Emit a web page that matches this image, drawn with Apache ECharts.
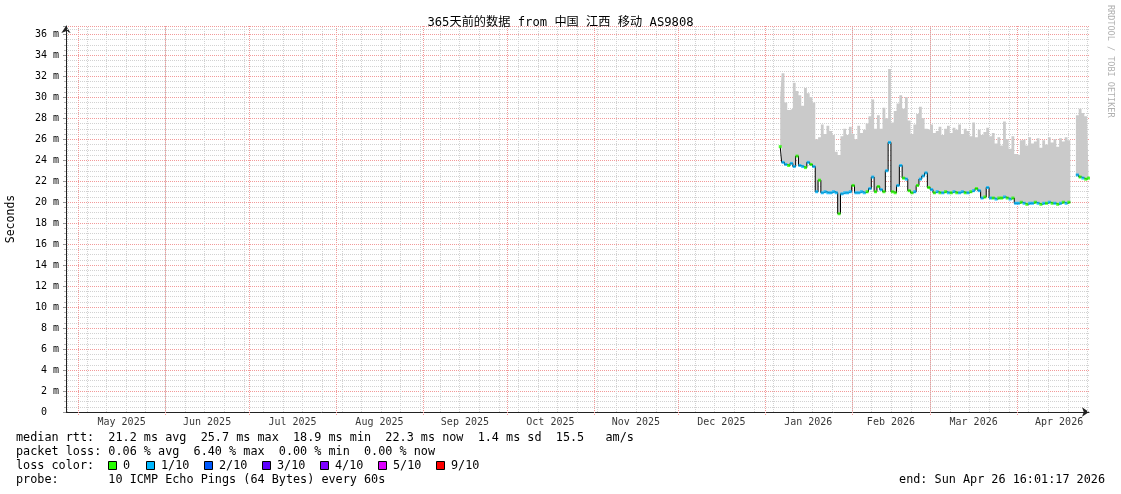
<!DOCTYPE html>
<html><head><meta charset="utf-8">
<script src="https://cdn.jsdelivr.net/npm/echarts@6/dist/echarts.min.js"></script>
<style>html,body{margin:0;padding:0;background:#fff}#c{width:1121px;height:494px}</style>
</head><body><div id="c"></div>
<script>
// ---------- data ----------
const rangeStart = '2025-04-26T16:01:17Z';
const rangeEnd   = '2026-04-26T16:01:17Z';
const dataStart  = '2026-01-06T12:00:00Z';   // first daily bucket (one value per day)

// median rtt (ms), one per day from dataStart; null = no data
const median = [
 25.3,23.8,23.6,23.5,23.7,23.4,24.4,23.5,23.4,23.3,
 23.8,23.6,23.4,21.0,22.1,20.9,21.0,20.9,20.9,21.0,
 20.9,18.9,20.8,20.9,20.9,21.0,21.6,20.9,20.9,21.0,
 20.9,21.0,21.3,22.4,21.0,21.5,21.2,21.0,23.0,25.7,
 21.0,20.9,21.6,23.5,22.3,22.2,21.1,20.9,21.0,21.6,
 22.2,22.5,22.8,21.4,21.2,20.9,21.0,20.9,20.9,21.0,
 20.9,20.9,21.0,20.9,20.9,21.0,20.9,20.9,21.0,21.1,
 21.3,21.1,20.4,20.5,21.4,20.4,20.4,20.3,20.4,20.4,
 20.5,20.4,20.3,20.4,19.9,19.9,20.0,19.9,19.8,19.9,
 19.9,20.0,19.9,19.8,19.9,19.9,20.0,19.9,19.9,19.8,
 19.9,20.0,19.9,20.0,null,null,22.6,22.4,22.3,22.2,
 22.3
];
// top of the smoke (max rtt, ms)
const smokeTop = [
 30.0,32.3,29.5,28.8,28.9,31.4,30.6,30.2,29.2,30.9,
 30.4,30.0,29.5,26.0,26.2,27.4,26.5,27.3,26.8,26.4,
 24.8,24.5,26.3,27.0,26.4,27.2,26.5,26.0,27.3,26.6,
 26.9,27.5,28.2,29.8,27.0,28.3,27.0,29.0,28.0,32.7,
 27.6,28.7,29.4,30.2,28.9,30.0,27.8,26.5,27.4,28.4,
 29.1,28.0,27.0,26.9,27.4,26.6,26.8,27.2,26.4,27.0,
 27.3,26.6,27.1,26.9,27.4,26.5,27.0,26.8,26.3,27.6,
 26.2,26.9,26.4,26.7,27.1,26.3,26.6,25.6,26.2,25.4,
 27.7,26.0,25.1,26.3,24.6,24.5,25.9,26.0,25.4,26.2,
 25.6,25.8,26.1,25.2,25.9,25.5,26.2,25.7,26.0,25.3,
 26.1,25.8,26.2,25.9,null,null,28.3,28.9,28.5,28.2,
 28.0
];
// loss per day, in tenths
const loss = [
 0,1,1,0,1,1,0,1,1,0,
 1,0,1,1,0,1,1,1,1,1,
 1,0,1,1,1,1,0,1,1,1,
 1,0,1,1,0,0,1,0,1,1,
 0,0,1,1,0,1,0,0,1,0,
 1,1,1,0,1,0,1,0,1,0,
 1,0,1,0,1,1,0,1,0,1,
 0,1,1,0,1,1,0,1,0,0,
 1,0,1,0,1,1,0,1,0,1,
 1,0,1,0,1,0,1,0,1,0,
 1,0,1,0,0,0,1,0,1,0,
 0
];
const monthStarts = ['2025-05-01','2025-06-01','2025-07-01','2025-08-01','2025-09-01','2025-10-01',
  '2025-11-01','2025-12-01','2026-01-01','2026-02-01','2026-03-01','2026-04-01','2026-05-01'];
const monthLabels = ['May 2025','Jun 2025','Jul 2025','Aug 2025','Sep 2025','Oct 2025',
  'Nov 2025','Dec 2025','Jan 2026','Feb 2026','Mar 2026','Apr 2026'];
const yTickStep = 2;
const yMax = 36.8;
const lossLevels = ['0','1/10','2/10','3/10','4/10','5/10','9/10'];
const lossColorList = ['#26ff00','#00b8ff','#0059ff','#5e00ff','#7e00ff','#dd00ff','#ff0000'];
const lossColorByTenth = {0:'#26ff00',1:'#00b8ff',2:'#0059ff',3:'#5e00ff',4:'#7e00ff',5:'#dd00ff',9:'#ff0000'};
const titleText = '365天前的数据 from 中国 江西 移动 AS9808';
const statLines = [
 'median rtt:  21.2 ms avg  25.7 ms max  18.9 ms min  22.3 ms now  1.4 ms sd  15.5   am/s',
 'packet loss: 0.06 % avg  6.40 % max  0.00 % min  0.00 % now',
 'loss color:',
 'probe:       10 ICMP Echo Pings (64 Bytes) every 60s'
];
const endText = 'end: Sun Apr 26 16:01:17 2026';

// ---------- build ----------
const DAY = 86400000;
const T0 = Date.parse(rangeStart), T1 = Date.parse(rangeEnd), D0 = Date.parse(dataStart);
const ts = median.map((_, i) => D0 + i * DAY);
const medData = median.map((v, i) => [ts[i], v]);
const smokeData = smokeTop.map((v, i) => [ts[i], (v == null || median[i] == null) ? null : +(v - median[i]).toFixed(2)]);
const markData = median.map((v, i) => [ts[i], v, loss[i]]).filter(d => d[1] != null);

const mT = monthStarts.map(s => Date.parse(s + 'T00:00:00Z'));
const labelData = monthLabels.map((l, i) => [(mT[i] + mT[i + 1]) / 2, 0, l]);
const weekGrid = [];   // minor vertical grid: Sundays
for (let t = Date.parse('2025-04-27T00:00:00Z'); t < T1; t += 7 * DAY) weekGrid.push([t, 0]);
const monthGrid = mT.filter(t => t > T0 && t < T1).map(t => [t, 1]);

const MONO = "'DejaVu Sans Mono', monospace";
const GRAY = '#d2d2d2', RED = '#f29a9a';
const grayDot = {color: GRAY, type: [1, 1], width: 1};
const redDot = {color: RED, type: [1, 1], width: 1};
const FS = 11.8;

function vLine(color, ext) {
  return (params, api) => {
    const p0 = api.coord([api.value(0), 0]);
    const p1 = api.coord([api.value(0), yMax]);
    const x = Math.round(p0[0]) + 0.5;
    return {type: 'line', shape: {x1: x, y1: Math.round(p0[1]) + ext, x2: x, y2: Math.round(p1[1])},
      style: {stroke: color, lineWidth: 1, lineDash: [1, 1], fill: null}};
  };
}

const graphic = [];
const lineY = [438, 452, 466, 480];
statLines.forEach((s, i) => graphic.push({type: 'text', x: 16, y: lineY[i],
  style: {text: s, fontFamily: MONO, fontSize: FS, fill: '#000', verticalAlign: 'middle'}}));
const swX = [108, 146, 204, 262, 320, 378, 436];
lossLevels.forEach((l, i) => {
  graphic.push({type: 'rect', shape: {x: swX[i] + 0.5, y: lineY[2] - 4.5, width: 8, height: 8},
    style: {fill: lossColorList[i], stroke: '#000', lineWidth: 1}});
  graphic.push({type: 'text', x: swX[i] + 15, y: lineY[2],
    style: {text: l, fontFamily: MONO, fontSize: FS, fill: '#000', verticalAlign: 'middle'}});
});
graphic.push({type: 'text', x: 1105, y: lineY[3],
  style: {text: endText, fontFamily: MONO, fontSize: FS, fill: '#000', verticalAlign: 'middle', align: 'right'}});
graphic.push({type: 'text', x: 1110, y: 5, rotation: -Math.PI / 2,
  style: {text: 'RRDTOOL / TOBI OETIKER', fontFamily: MONO, fontSize: 8.5, fill: '#b0b0b0', verticalAlign: 'middle', align: 'left'}});

const chart = echarts.init(document.getElementById('c'), null, {renderer: 'canvas'});
chart.setOption({
  animation: false,
  backgroundColor: '#ffffff',
  title: {text: titleText, left: 'center', top: 12,
    textStyle: {fontFamily: "'DejaVu Sans Mono','Noto Sans CJK SC',monospace", fontSize: 12.2, fontWeight: 'normal', color: '#000'}},
  grid: {left: 66, right: 32, top: 26, bottom: 82, outerBoundsMode: 'none', containLabel: false},
  xAxis: {type: 'time', min: T0, max: T1,
    axisLine: {show: true, onZero: false, lineStyle: {color: '#222', width: 1}, symbol: ['none', 'arrow'], symbolSize: [7, 7]},
    axisTick: {show: false}, minorTick: {show: false}, axisLabel: {show: false},
    splitLine: {show: false}, minorSplitLine: {show: false}, splitArea: {show: false}},
  yAxis: {type: 'value', min: 0, max: yMax, interval: yTickStep,
    name: 'Seconds', nameLocation: 'middle', nameGap: 49, nameRotate: 90,
    nameTextStyle: {fontFamily: MONO, fontSize: 11.5, color: '#000'},
    axisLine: {show: true, onZero: false, lineStyle: {color: '#222', width: 1}, symbol: ['none', 'arrow'], symbolSize: [7, 7]},
    axisTick: {show: true, length: 3, lineStyle: {color: '#999'}},
    minorTick: {show: true, splitNumber: 4, length: 2, lineStyle: {color: '#bbb'}},
    axisLabel: {fontFamily: MONO, fontSize: 10, color: '#000', margin: 7,
      formatter: v => (Math.abs(v - Math.round(v)) > 1e-6 ? '' : (v === 0 ? '0  ' : v + ' m'))},
    splitLine: {show: true, lineStyle: redDot},
    minorSplitLine: {show: true, lineStyle: grayDot}},
  graphic: graphic,
  series: [
    {name: 'weekGrid', type: 'custom', data: weekGrid, silent: true, z: 1, clip: false,
      itemStyle: {color: GRAY}, renderItem: vLine(GRAY, 0)},
    {name: 'monthGrid', type: 'custom', data: monthGrid, silent: true, z: 1, clip: false,
      itemStyle: {color: RED}, renderItem: vLine(RED, 3)},
    {name: 'xlabels', type: 'scatter', data: labelData, symbolSize: 0, clip: false, silent: true, z: 1,
      label: {show: true, position: 'bottom', distance: 5, formatter: p => p.data[2],
        fontFamily: MONO, fontSize: 10, color: '#000'}},
    {name: 'base', type: 'line', stack: 'smoke', step: 'middle', data: medData, showSymbol: false,
      lineStyle: {opacity: 0}, silent: true, z: 2},
    {name: 'smoke', type: 'line', stack: 'smoke', step: 'middle', data: smokeData, showSymbol: false,
      lineStyle: {width: 0, opacity: 0}, areaStyle: {color: '#cacaca', opacity: 1}, silent: true, z: 2},
    {name: 'median', type: 'line', step: 'middle', data: medData, showSymbol: false,
      lineStyle: {color: '#000', width: 1}, silent: true, z: 3},
    {name: 'loss', type: 'scatter', data: markData, symbol: 'rect', symbolSize: [3, 3], silent: true, z: 4,
      itemStyle: {color: p => lossColorByTenth[p.data[2]]}}
  ]
});
</script></body></html>
